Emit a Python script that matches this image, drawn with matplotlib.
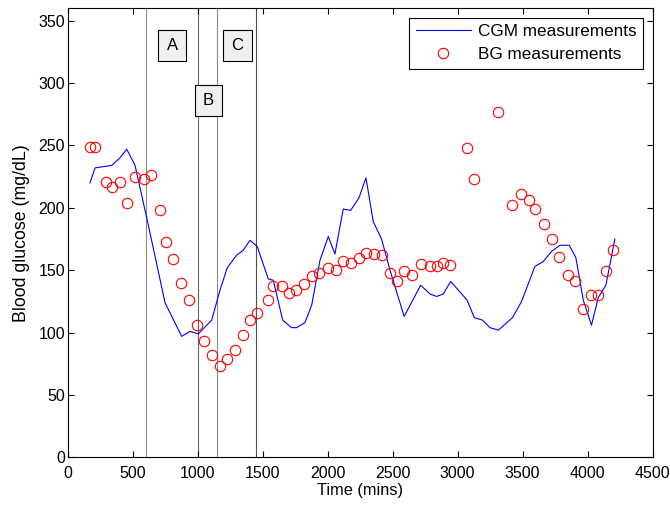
import matplotlib
matplotlib.use("Agg")
import matplotlib.pyplot as plt

plt.rcParams['font.family'] = ['Liberation Sans', 'DejaVu Sans']
plt.rcParams['font.size'] = 12

# CGM trace (time in mins, mg/dL)
cgm_t = [169, 208, 336, 400, 452, 516, 606, 747, 875, 939, 1003, 1106, 1170, 1226,
         1298, 1349, 1401, 1457, 1542, 1580, 1653, 1721, 1760, 1824, 1876, 1940,
         2004, 2055, 2119, 2176, 2240, 2294, 2350, 2414, 2479, 2588, 2715, 2787,
         2838, 2889, 2946, 3073, 3128, 3192, 3248, 3313, 3422, 3492, 3594, 3659,
         3722, 3787, 3859, 3910, 3967, 4030, 4082, 4141, 4210]
cgm_g = [220, 232, 234, 240, 247, 234, 192, 124, 97, 101, 99, 110, 134, 152,
         162, 166, 174, 169, 143, 142, 110, 104, 104, 108, 122, 158,
         177, 163, 199, 198, 208, 224, 189, 175, 150, 113, 138, 131,
         129, 131, 141, 126, 112, 110, 104, 102, 112, 125, 153, 157,
         165, 170, 170, 160, 126, 106, 128, 138, 175]

# finger-stick BG readings
bg_t = [166, 205, 290, 341, 400, 452, 516, 584, 639, 708, 751, 811, 872, 934,
        996, 1049, 1109, 1170, 1221, 1286, 1349, 1401, 1457, 1542, 1580, 1645,
        1703, 1754, 1816, 1878, 1932, 2004, 2060, 2119, 2176, 2239, 2294, 2355,
        2419, 2479, 2535, 2588, 2650, 2715, 2787, 2838, 2889, 2941, 3073, 3126,
        3313, 3420, 3485, 3546, 3599, 3662, 3725, 3782, 3851, 3907, 3967, 4025,
        4082, 4141, 4195]
bg_g = [249, 249, 221, 217, 221, 204, 225, 223, 226, 198, 173, 159, 140, 126,
        106, 93, 82, 73, 79, 86, 98, 110, 116, 126, 137, 137,
        132, 134, 139, 145, 148, 152, 150, 157, 156, 160, 164, 163,
        162, 148, 141, 149, 146, 155, 153, 153, 156, 154, 248, 223,
        277, 202, 211, 206, 199, 187, 175, 161, 146, 141, 119, 130,
        130, 149, 166]

# phase boundaries and labels
vlines = [600, 1000, 1150, 1450]
vcolors = ['0.55', '0.4', '0.55', '0.3']
labels = ['A', 'B', 'C']
label_x = [801, 1082, 1305]
label_y = [330, 286, 330]

fig = plt.figure(figsize=(6.7, 5.08), dpi=100)
ax = fig.add_axes([0.1015, 0.0995, 0.8724, 0.8845])

for xv, c in zip(vlines, vcolors):
    ax.axvline(xv, color=c, lw=0.8, zorder=1)

ax.plot(cgm_t, cgm_g, color='#0000ff', lw=0.8, label='CGM measurements', zorder=3)
ax.plot(bg_t, bg_g, 'o', mfc='none', mec='#ff0000', ms=7.5, mew=0.8,
        label='BG measurements', zorder=4)

for lab, lx, ly in zip(labels, label_x, label_y):
    ax.text(lx, ly, lab, fontsize=12, ha='center', va='center', zorder=5,
            bbox=dict(boxstyle='square,pad=0.5', fc='#f0f0f0', ec='black', lw=0.8))

ax.set_xlim(0, 4500)
ax.set_ylim(0, 360)
ax.set_xticks(range(0, 4501, 500))
ax.set_yticks(range(0, 351, 50))
ax.tick_params(direction='in', top=True, right=True, length=4, width=0.8,
               labelsize=11.5)
ax.tick_params(axis='x', pad=6.5)
ax.tick_params(axis='y', pad=2.2)
for s in ax.spines.values():
    s.set_linewidth(0.8)

ax.set_xlabel('Time (mins)', fontsize=11.8, labelpad=1)
ax.set_ylabel('Blood glucose (mg/dL)', fontsize=12.8, labelpad=6)

leg = ax.legend(loc='upper right', fancybox=False, edgecolor='black',
                framealpha=1, fontsize=12.3, borderaxespad=0.55,
                handlelength=3.2, handletextpad=0.4, labelspacing=0.45,
                borderpad=0.4)
leg.get_frame().set_linewidth(0.8)

fig.savefig('out.png', dpi=100)
